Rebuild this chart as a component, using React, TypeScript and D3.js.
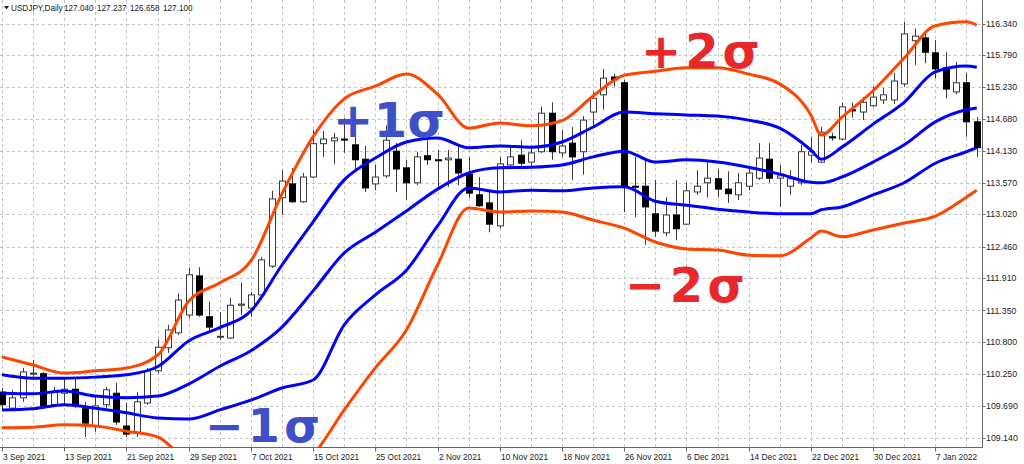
import React from 'react';
import * as d3 from 'd3';

// ---- Data (USDJPY daily, 3 Sep 2021 .. 13 Jan 2022) ----
const opens = [
  109.93,109.65,109.83,110.25,110.25,109.71,109.91,109.98,109.64,109.34,
  109.71,109.91,109.34,109.22,109.74,110.30,110.70,110.96,111.27,111.95,
  111.24,110.89,110.87,111.44,111.39,111.62,112.12,113.31,113.55,113.24,
  113.67,114.25,114.30,114.33,114.23,113.98,113.55,113.69,114.12,113.83,
  113.57,114.04,113.97,113.97,113.98,113.72,113.36,113.22,112.82,113.88,
  114.05,113.93,114.11,114.78,114.09,114.26,114.11,114.80,115.10,115.41,
  115.31,113.51,113.51,113.03,112.70,113.01,112.85,113.41,113.57,113.64,
  113.46,113.36,113.51,113.65,113.98,113.65,113.51,113.57,114.05,113.93,
  114.37,114.33,114.84,114.80,114.91,115.01,115.01,115.29,116.04,116.09,
  115.83,115.57,115.15,115.31,114.63,
];
const highs = [
  110.00,109.97,110.35,110.49,110.28,110.02,110.17,110.19,109.76,109.85,
  110.02,110.09,109.74,109.93,110.35,110.84,111.10,111.65,112.09,112.10,
  111.50,111.32,111.57,111.83,111.67,112.28,113.43,113.79,113.83,113.74,
  114.49,114.47,114.44,114.70,114.37,114.21,113.88,114.57,114.26,113.97,
  114.11,114.31,114.14,114.14,114.23,114.02,113.67,113.44,114.02,114.18,
  114.31,114.19,114.89,114.97,114.49,114.54,114.73,115.15,115.55,115.46,
  115.36,114.02,113.97,113.62,113.32,113.62,113.57,113.79,113.93,113.81,
  113.77,113.74,113.83,114.26,114.26,113.88,113.79,114.23,114.37,114.54,
  114.44,114.96,114.96,115.06,115.24,115.22,115.48,116.37,116.25,116.21,
  116.05,115.84,115.67,115.48,114.71,
];
const lows = [
  109.62,109.62,109.76,110.19,109.65,109.67,109.71,109.65,109.15,109.24,
  109.65,109.36,109.15,109.15,109.71,110.26,110.61,110.92,111.22,111.24,
  110.96,110.84,110.85,111.27,111.24,111.58,112.09,113.01,113.22,113.22,
  113.65,114.02,113.90,114.09,113.76,113.41,113.44,113.65,113.41,113.27,
  113.53,113.88,113.48,113.50,113.53,113.31,113.15,112.71,112.78,113.84,
  113.83,113.84,114.09,113.97,114.02,113.62,113.71,114.57,114.84,115.24,
  113.06,112.97,112.49,112.63,112.64,112.57,112.84,113.36,113.31,113.32,
  113.22,113.27,113.44,113.62,113.57,113.15,113.36,113.53,113.93,113.91,
  114.30,114.31,114.70,114.66,114.89,114.94,114.94,115.24,115.62,115.65,
  115.39,115.04,115.11,114.37,114.02,
];
const closes = [
  109.71,109.83,110.28,110.26,109.69,109.93,109.98,109.69,109.39,109.69,
  109.97,109.41,109.20,109.76,110.30,110.71,111.01,111.53,111.97,111.27,
  111.06,110.90,111.44,111.46,111.62,112.23,113.29,113.60,113.24,113.67,
  114.25,114.33,114.35,114.32,113.97,113.48,113.67,114.31,113.81,113.57,
  114.02,113.97,113.96,114.00,113.74,113.39,113.17,112.85,113.90,114.02,
  113.91,114.09,114.78,114.11,114.21,114.02,114.66,115.04,115.39,115.36,
  113.51,113.50,113.15,112.73,113.01,112.77,113.43,113.51,113.65,113.46,
  113.38,113.57,113.74,114.00,113.65,113.69,113.64,114.11,114.11,114.45,
  114.35,114.89,114.82,114.97,115.06,115.10,115.34,116.16,116.12,115.84,
  115.55,115.20,115.31,114.63,114.18,
];

// Bollinger band readings (bar index -> price)
const bandIdx = [0,3,6,9,12,15,18,21,24,27,30,33,36,39,42,45,48,51,54,57,60,63,66,69,72,75,78,79,81,84,87,90,93,94];
const upper2 = [110.54,110.40,110.26,110.30,110.35,110.57,111.51,111.83,112.21,113.38,114.37,115.03,115.25,115.46,115.11,114.52,114.61,114.56,114.65,115.08,115.44,115.51,115.57,115.57,115.46,115.29,114.75,114.40,114.71,115.17,115.74,116.30,116.37,116.31];
const upper1 = [110.23,110.17,110.17,110.19,110.23,110.37,110.82,111.05,111.34,112.14,112.89,113.62,114.00,114.28,114.35,114.18,114.21,114.19,114.28,114.54,114.80,114.77,114.75,114.73,114.66,114.52,114.14,113.98,114.19,114.59,114.97,115.50,115.60,115.58];
const middle = [109.91,109.90,109.95,109.86,109.83,109.86,110.07,110.38,110.65,111.06,111.69,112.35,112.71,113.08,113.46,113.74,113.83,113.84,113.88,114.02,114.12,113.93,113.97,113.93,113.84,113.72,113.58,113.57,113.67,113.93,114.23,114.63,114.84,114.87];
const lower1 = [109.62,109.64,109.71,109.65,109.57,109.48,109.46,109.62,109.79,110.00,110.14,111.10,111.62,112.05,112.82,113.48,113.41,113.44,113.43,113.48,113.50,113.25,113.18,113.11,113.06,113.03,113.03,113.10,113.15,113.36,113.57,113.91,114.11,114.18];
const lower2 = [109.31,109.32,109.36,109.34,109.25,109.15,108.71,108.54,108.44,108.49,108.84,109.62,110.35,111.01,112.14,113.13,113.06,113.08,113.06,112.92,112.78,112.54,112.42,112.40,112.31,112.30,112.61,112.73,112.63,112.75,112.87,112.99,113.32,113.44];

const priceTicks = [116.34,115.79,115.23,114.68,114.13,113.57,113.02,112.46,111.91,111.35,110.80,110.25,109.69,109.14];
const dateLabels = ["3 Sep 2021","13 Sep 2021","21 Sep 2021","29 Sep 2021","7 Oct 2021","15 Oct 2021","25 Oct 2021","2 Nov 2021","10 Nov 2021","18 Nov 2021","26 Nov 2021","6 Dec 2021","14 Dec 2021","22 Dec 2021","30 Dec 2021","7 Jan 2022"];
const dateLabelIdx = [0,6,12,18,24,30,36,42,48,54,60,66,72,78,84,90];
const headerSymbol = "USDJPY,Daily";
const headerValues = ["127.040","127.237","126.658","127.100"];

export default function App() {
  const W = 1024, H = 464;
  const plotRight = 982.5;
  const plotBottom = 447.5;
  const x = d3.scaleLinear().domain([0, 94]).range([2, 976.8]);
  const y = d3.scaleLinear().domain([109.14, 116.34]).range([437.5, 23.5]);
  const line = d3.line<number>()
    .x((_, k) => x(bandIdx[k]))
    .y((d) => y(d))
    .curve(d3.curveMonotoneX);
  const vGrid = d3.range(0, opens.length, 3);
  const gridColor = '#c4c4c4';
  const axisFont = "Tahoma, 'Liberation Sans', Arial, sans-serif";
  const bigFont = "'DejaVu Sans', Verdana, sans-serif";
  const bodyW = 6;

  return (
    <svg width={W} height={H} style={{ position: 'absolute', left: 0, top: 0, background: '#fff' }}>
      <defs>
        <clipPath id="plot">
          <rect x={0} y={0} width={plotRight} height={plotBottom} />
        </clipPath>
      </defs>
      <rect x={0} y={0} width={W} height={H} fill="#fff" />
      {/* grid */}
      <g stroke={gridColor} strokeWidth={1} strokeDasharray="3,3">
        {priceTicks.map((p) => (
          <line key={'h' + p} x1={0} x2={plotRight} y1={Math.round(y(p)) + 0.5} y2={Math.round(y(p)) + 0.5} />
        ))}
        {vGrid.map((i) => (
          <line key={'v' + i} x1={Math.round(x(i)) + 0.5} x2={Math.round(x(i)) + 0.5} y1={0} y2={plotBottom} />
        ))}
      </g>
      {/* candles */}
      <g clipPath="url(#plot)">
        {opens.map((o, i) => {
          const c = closes[i];
          const cx = Math.round(x(i)) + 0.5;
          const top = y(Math.max(o, c));
          const bot = y(Math.min(o, c));
          const bull = c >= o;
          return (
            <g key={'c' + i}>
              <line x1={cx} x2={cx} y1={y(highs[i])} y2={y(lows[i])} stroke="#3a3a3a" strokeWidth={1} />
              <rect
                x={cx - bodyW / 2}
                y={top}
                width={bodyW}
                height={Math.max(1, bot - top)}
                fill={bull ? '#fff' : '#000'}
                stroke={bull ? '#3a3a3a' : '#000'}
                strokeWidth={1}
              />
            </g>
          );
        })}
        {/* bands */}
        <path d={line(upper2) || ''} fill="none" stroke="#ff4500" strokeWidth={3} strokeLinejoin="round" />
        <path d={line(lower2) || ''} fill="none" stroke="#ff4500" strokeWidth={3} strokeLinejoin="round" />
        <path d={line(upper1) || ''} fill="none" stroke="#0000ff" strokeWidth={3} strokeLinejoin="round" />
        <path d={line(middle) || ''} fill="none" stroke="#0000ff" strokeWidth={3} strokeLinejoin="round" />
        <path d={line(lower1) || ''} fill="none" stroke="#0000ff" strokeWidth={3} strokeLinejoin="round" />
      </g>
      {/* axes */}
      <line x1={plotRight} x2={plotRight} y1={0} y2={plotBottom} stroke="#666" strokeWidth={1} />
      <line x1={0} x2={plotRight} y1={plotBottom} y2={plotBottom} stroke="#666" strokeWidth={1} />
      {priceTicks.map((p) => (
        <g key={'yt' + p}>
          <line x1={plotRight} x2={plotRight + 3} y1={Math.round(y(p)) + 0.5} y2={Math.round(y(p)) + 0.5} stroke="#666" />
          <text x={986} y={y(p)} dy="0.35em" fontSize={8.8} fontFamily={axisFont} fill="#222">{p.toFixed(3)}</text>
        </g>
      ))}
      {dateLabelIdx.map((i, k) => (
        <g key={'xt' + i}>
          <line x1={Math.round(x(i)) + 0.5} x2={Math.round(x(i)) + 0.5} y1={plotBottom} y2={plotBottom + 4} stroke="#666" />
          <text x={Math.round(x(i)) + 1} y={460} fontSize={8.3} fontFamily={axisFont} fill="#222">{dateLabels[k]}</text>
        </g>
      ))}
      {/* header */}
      <path d="M4,6 L9,6 L6.5,9.5 Z" fill="#222" />
      <text x={11} y={11} fontSize={8.2} fontFamily={axisFont} fill="#222">{headerSymbol}</text>
      {headerValues.map((v, k) => (
        <text key={v} x={64 + k * 33} y={11} fontSize={8.2} fontFamily={axisFont} fill="#222">{v}</text>
      ))}
      {/* annotations */}
      <g fontFamily={bigFont} fontWeight="bold" fontSize={48}>
        <text x={641} y={68} fill="#e8282b" textLength={119} lengthAdjust="spacing">+2σ</text>
        <text x={333} y={137} fill="#3f4fc8" textLength={112} lengthAdjust="spacing">+1σ</text>
        <text x={625} y={302} fill="#e8282b" textLength={120} lengthAdjust="spacing">−2σ</text>
        <text x={205} y={442} fontSize={46} fill="#3f4fc8" textLength={115} lengthAdjust="spacing">−1σ</text>
      </g>
    </svg>
  );
}
